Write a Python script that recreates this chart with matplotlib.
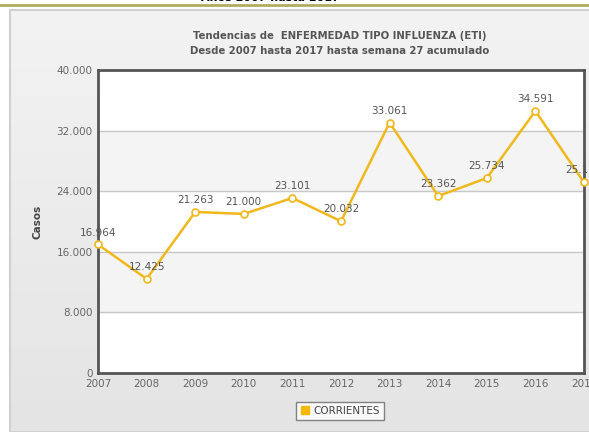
import matplotlib
matplotlib.use("Agg")
import matplotlib.pyplot as plt
import numpy as np
from matplotlib.patches import Rectangle

years = [2007, 2008, 2009, 2010, 2011, 2012, 2013, 2014, 2015, 2016, 2017]
casos = [16964, 12425, 21263, 21000, 23101, 20032, 33061, 23362, 25734, 34591, 25166]
labels = ["16.964", "12.425", "21.263", "21.000", "23.101", "20.032",
          "33.061", "23.362", "25.734", "34.591", "25.166"]
yticks = [0, 8000, 16000, 24000, 32000, 40000]
ytick_labels = ["0", "8.000", "16.000", "24.000", "32.000", "40.000"]

W, H = 589, 432
fig = plt.figure(figsize=(W / 100, H / 100), dpi=100)
fig.patch.set_facecolor("white")

# outer panel with vertical gradient
grad = np.linspace(0, 1, 256).reshape(-1, 1)
bg = fig.add_axes([10 / W, 0, 1 - 10 / W, 1 - 10 / H])
bg.imshow(grad, aspect="auto", cmap=matplotlib.colors.LinearSegmentedColormap.from_list(
    "g", ["#f3f3f3", "#e4e4e4"]), extent=[0, 1, 0, 1], origin="upper")
bg.set_axis_off()
fig.add_artist(Rectangle((10 / W, 0), 1, 1 - 10 / H, transform=fig.transFigure,
                         fill=False, edgecolor="#d0d0d0", lw=1.5))
fig.add_artist(plt.Line2D([0, 1], [1 - 4.5 / H, 1 - 4.5 / H], transform=fig.transFigure,
                          color="#b0ad60", lw=2))
fig.text(270 / W, 1 + 1.8 / H, "Años 2007 hasta 2017", ha="center", va="center",
         fontsize=8, fontweight="bold", color="black")

fig.text(340 / W, 1 - 36 / H, "Tendencias de  ENFERMEDAD TIPO INFLUENZA (ETI)",
         ha="center", va="center", fontsize=7.3, fontweight="bold", color="#555555")
fig.text(340 / W, 1 - 51 / H, "Desde 2007 hasta 2017 hasta semana 27 acumulado",
         ha="center", va="center", fontsize=7.3, fontweight="bold", color="#555555")

ax = fig.add_axes([98 / W, 1 - 373 / H, 486 / W, 303 / H])
ax.set_facecolor("white")
for i in range(len(yticks) - 1):
    if i % 2 == 1:
        ax.axhspan(yticks[i], yticks[i + 1], color="#f4f4f4", zorder=0)
for t in yticks[1:-1]:
    ax.axhline(t, color="#c8c8c8", lw=1, zorder=1)

ax.plot(years, casos, color="#f0b81c", lw=1.8, zorder=3,
        marker="o", markersize=5, markerfacecolor="white",
        markeredgecolor="#f0b81c", markeredgewidth=1.2, clip_on=False)
for x, y, s in zip(years, casos, labels):
    ax.annotate(s, (x, y), xytext=(0, 5), textcoords="offset points",
                ha="center", va="bottom", fontsize=7.5, color="#555555", zorder=4,
                annotation_clip=False)

ax.set_xlim(2007, 2017)
ax.set_ylim(0, 40000)
ax.set_xticks(years)
ax.set_xticklabels([str(y) for y in years], fontsize=7.5, color="#666666")
ax.set_yticks(yticks)
ax.set_yticklabels(ytick_labels, fontsize=7.5, color="#666666")
ax.tick_params(length=0, pad=4)
for sp in ax.spines.values():
    sp.set_color("#555555")
    sp.set_linewidth(2)
ax.set_ylabel("Casos", fontsize=7.5, fontweight="bold", color="#444444", labelpad=10)

leg = ax.legend([plt.Line2D([], [], marker="s", color="#f5b800", ls="none", markersize=6)],
                ["CORRIENTES"], loc="center", bbox_to_anchor=(340 / W, 1 - 411 / H),
                bbox_transform=fig.transFigure, fontsize=7.5, frameon=True,
                fancybox=False, handletextpad=0.3, borderpad=0.4, handlelength=1)
leg.get_frame().set_edgecolor("#666666")
leg.get_frame().set_linewidth(1)
for t in leg.get_texts():
    t.set_color("#444444")

fig.savefig("out.png", dpi=100)
